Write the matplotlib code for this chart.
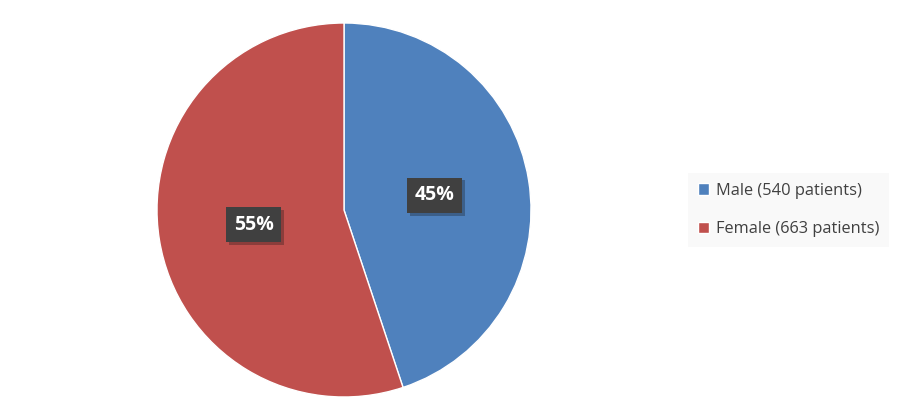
import matplotlib.pyplot as plt
import matplotlib.patheffects as pe

labels = ['Male (540 patients)', 'Female (663 patients)']
counts = [540, 663]
colors = ['#4F81BD', '#C0504D']

fig = plt.figure(figsize=(9, 4.2), dpi=100)
ax = fig.add_axes([157 / 900, 23 / 420, 374 / 900, 374 / 420])

wedges, texts, autotexts = ax.pie(counts, colors=colors, startangle=90, counterclock=False,
                                  autopct='%1.0f%%', pctdistance=0.49,
                                  wedgeprops=dict(edgecolor='white', linewidth=1))
ax.set_xlim(-1, 1)
ax.set_ylim(-1, 1)
ax.set_aspect('equal')

for t in autotexts:
    t.set_color('white')
    t.set_fontsize(14)
    t.set_fontweight('bold')
    t.set_fontfamily('Open Sans')
    t.set_bbox(dict(boxstyle='square,pad=0.4', facecolor='#404040', edgecolor='none'))
    t.get_bbox_patch().set_path_effects([pe.SimplePatchShadow(offset=(2, -2), alpha=0.3), pe.Normal()])

leg = fig.legend(wedges, labels, loc='center left', bbox_to_anchor=(688 / 900, 1 - 210 / 420),
                 frameon=True, handlelength=0.7, handleheight=0.7,
                 labelspacing=1.35, handletextpad=0.4, borderpad=0.6, borderaxespad=0,
                 prop={'family': 'Open Sans', 'size': 11.8})
leg.get_frame().set_facecolor('#f8f8f8')
leg.get_frame().set_edgecolor('none')
leg.get_frame().set_boxstyle('square', pad=0)
for txt in leg.get_texts():
    txt.set_color('#404040')

fig.savefig('out.png', dpi=100)
